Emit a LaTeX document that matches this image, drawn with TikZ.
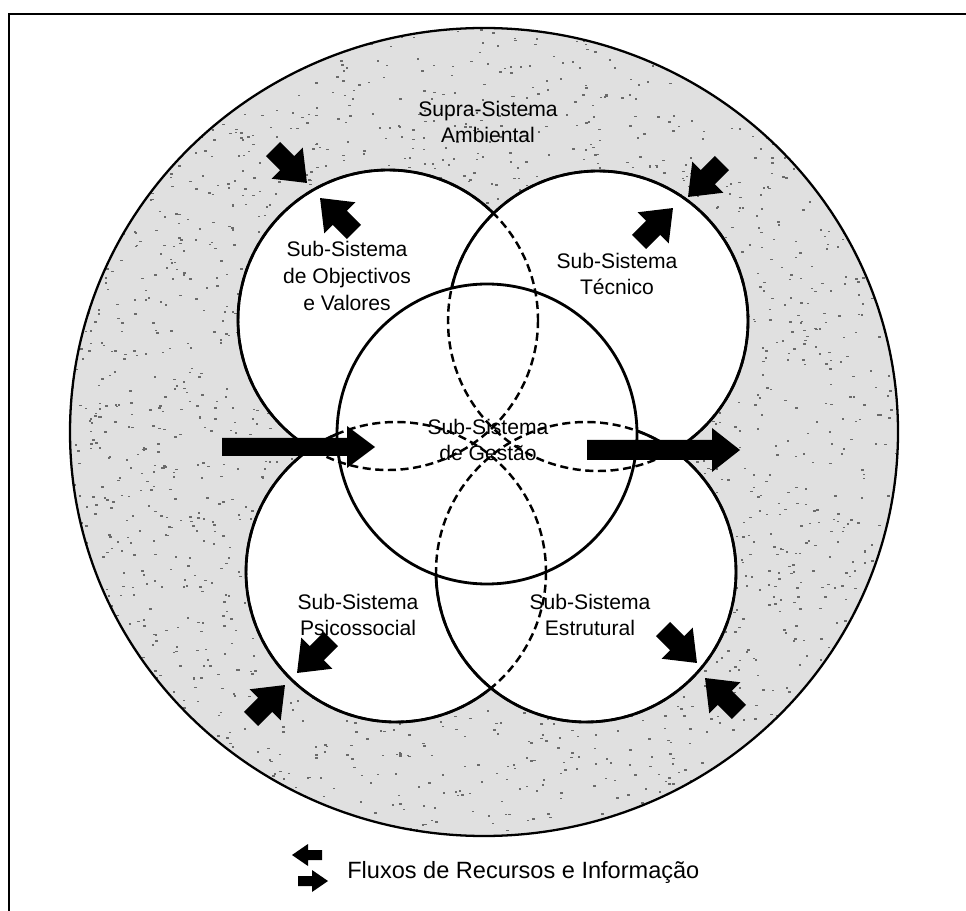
\documentclass[tikz,border=0pt]{standalone}
\usepackage{fontspec}
\setmainfont{Liberation Sans}
\begin{document}
\begin{tikzpicture}[x=0.02cm,y=-0.02cm,
  ring/.style={line width=1.6pt},
  hidden/.style={line width=1.4pt,dash pattern=on 4.6pt off 2.6pt},
  lbl/.style={align=center,font=\fontsize{12pt}{15.3pt}\selectfont,inner sep=0pt},
  blk/.style={fill=black,draw=none}]
\useasboundingbox (0,0) rectangle (966,911);
% frame
\begin{scope}
  \clip (0,0) rectangle (966,911);
  \draw[line width=1.6pt] (9,14) rectangle (1010,960);
\end{scope}

% centres of the sub-systems
\coordinate (env) at (484,432);
\coordinate (cTL) at (388,320);
\coordinate (cTR) at (598,321);
\coordinate (cBL) at (396,572);
\coordinate (cBR) at (586,572);
\coordinate (cC)  at (487,434);
\def\r{150}

% environment: stippled grey disc
\begin{scope}
  \clip (env) ellipse [x radius=414, y radius=404];
  \fill[black!12] (0,0) rectangle (966,911);
  \pgfmathsetseed{11}
  \foreach \i in {1,...,3000}{
    \pgfmathsetmacro\px{70+830*rnd}
    \pgfmathsetmacro\py{25+815*rnd}
    \fill[black!58] (\px,\py) rectangle ++(2.4,1.6);
  }
\end{scope}
\draw[line width=1.3pt] (env) ellipse [x radius=414, y radius=404];

% sub-systems stacked back to front; hidden outlines are dashed
\foreach \c in {cTL,cBL,cTR,cBR,cC}{
  \filldraw[fill=white,ring] (\c) circle[radius=\r];
}
\foreach \c in {cTL,cBL,cTR,cBR}{
  \draw[hidden] (\c) circle[radius=\r];
}

% labels
\node[lbl] (supra) at (488,122) {Supra-Sistema\\Ambiental};
\node[lbl] (tl) at (347,276) {Sub-Sistema\\de Objectivos\\e Valores};
\node[lbl] (tr) at (617,274) {Sub-Sistema\\Técnico};
\node[lbl] (ct) at (488,440) {Sub-Sistema\\de Gestão};
\node[lbl] (bl) at (358,615) {Sub-Sistema\\Psicossocial};
\node[lbl] (br) at (590,615) {Sub-Sistema\\Estrutural};

% small two-way flow arrows (arrow along +x, centred on its shift point)
\def\flow#1#2{\fill[blk,shift={#1},rotate=#2]
  (-24,-10) -- (-4,-10) -- (-4,-22) -- (24,0) -- (-4,22) -- (-4,10) -- (-24,10) -- cycle;}
\flow{(290,166)}{-45}
\flow{(337,215)}{135}
\flow{(705,180)}{-135}
\flow{(656,225)}{45}
\flow{(314,656)}{-135}
\flow{(268,702)}{45}
\flow{(680,646)}{-45}
\flow{(722,695)}{135}

% main input / output arrows
\coordinate (inA) at (222,447);
\coordinate (inB) at (375,447);
\coordinate (outA) at (587,450);
\coordinate (outB) at (740,450);
\fill[blk] (inA) ++(0,-9) -- ++(125,0) -- ++(0,-12) -- (inB) -- ++(-28,21) -- ++(0,-12) -- ++(-125,0) -- cycle;
\fill[blk] (outA) ++(0,-10) -- ++(125,0) -- ++(0,-12) -- (outB) -- ++(-28,22) -- ++(0,-12) -- ++(-125,0) -- cycle;

% legend
\def\legflow#1#2{\fill[blk,shift={#1},rotate=#2]
  (-15,-5) -- (-1,-5) -- (-1,-11) -- (15,0) -- (-1,11) -- (-1,5) -- (-15,5) -- cycle;}
\legflow{(307,855)}{180}
\legflow{(313,881)}{0}
\node[anchor=base west,font=\fontsize{13.4pt}{16pt}\selectfont,inner sep=0pt] (leg) at (347,878) {Fluxos de Recursos e Informação};
\end{tikzpicture}
\end{document}
